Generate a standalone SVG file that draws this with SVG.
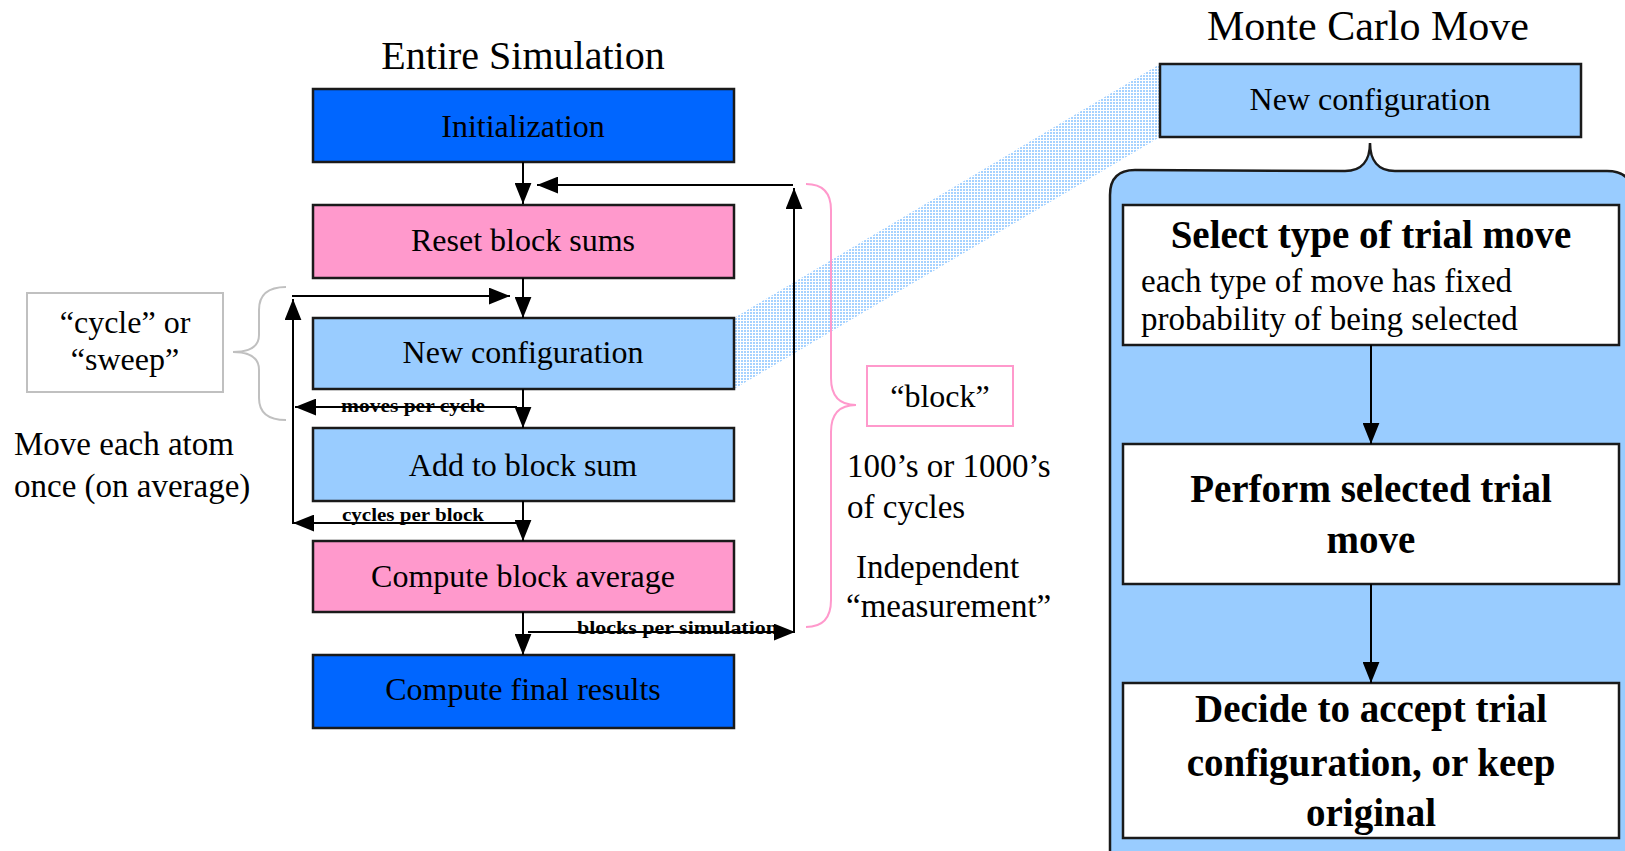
<svg xmlns="http://www.w3.org/2000/svg" width="1625" height="851" viewBox="0 0 1625 851">
<style>
  .t { font-family: "Liberation Serif", "Times New Roman", serif; fill: #000; }
  .title { font-size: 40px; text-anchor: middle; }
  .lbl { font-size: 32px; text-anchor: middle; }
  .big { font-size: 39px; font-weight: bold; text-anchor: middle; }
  .txt { font-size: 33px; }
  .sm { font-size: 19px; font-weight: bold; }
  .box { stroke: #1a1a1a; stroke-width: 2.5; }
  .dk { fill: #0066FF; }
  .pk { fill: #FF99CC; }
  .lb { fill: #99CCFF; }
  .wh { fill: #FFFFFF; }
  .ln { stroke: #000; stroke-width: 2; fill: none; }
</style>
<defs>
  <marker id="ah" viewBox="0 0 20 16" refX="20" refY="8" markerWidth="21" markerHeight="17" markerUnits="userSpaceOnUse" orient="auto">
    <path d="M0,0 L20,8 L0,16 Z" fill="#000"/>
  </marker>
  <pattern id="hatch" width="3" height="3" patternUnits="userSpaceOnUse">
    <rect width="3" height="3" fill="#FFFFFF"/>
    <rect width="2" height="2" fill="#A6D2FF"/>
  </pattern>
</defs>
<rect width="1625" height="851" fill="#FFFFFF"/>

<!-- zoom band -->
<polygon id="zoom-band" points="734,318 1160,64 1160,137 734,389" fill="url(#hatch)"/>

<!-- titles -->
<text class="t title" x="523" y="69">Entire Simulation</text>
<text class="t title" x="1368" y="40" style="font-size:42px">Monte Carlo Move</text>

<!-- left flow nodes -->
<g id="init"><rect class="box dk" x="313" y="89" width="421" height="73"/><text class="t lbl" x="523" y="137">Initialization</text></g>
<g id="reset"><rect class="box pk" x="313" y="205" width="421" height="73"/><text class="t lbl" x="523" y="251">Reset block sums</text></g>
<g id="newconf"><rect class="box lb" x="313" y="318" width="421" height="71"/><text class="t lbl" x="523" y="363">New configuration</text></g>
<g id="addsum"><rect class="box lb" x="313" y="428" width="421" height="73"/><text class="t lbl" x="523" y="476">Add to block sum</text></g>
<g id="blockavg"><rect class="box pk" x="313" y="541" width="421" height="71"/><text class="t lbl" x="523" y="587">Compute block average</text></g>
<g id="final"><rect class="box dk" x="313" y="655" width="421" height="73"/><text class="t lbl" x="523" y="700">Compute final results</text></g>

<!-- annotations left -->
<g id="cycle-box">
  <rect x="27" y="293" width="196" height="99" fill="#FFFFFF" stroke="#C0C0C0" stroke-width="2"/>
  <text class="t lbl" x="125" y="333">“cycle” or</text>
  <text class="t lbl" x="125" y="370">“sweep”</text>
</g>
<path id="gray-brace" d="M286,287 Q259,287 259,310 L259,335 Q259,352 233,352 Q259,352 259,370 L259,398 Q259,420 286,420" fill="none" stroke="#C0C0C0" stroke-width="2"/>
<g id="move-note">
  <text class="t txt" x="14" y="455">Move each atom</text>
  <text class="t txt" x="14" y="497">once (on average)</text>
</g>

<!-- annotations right of flow -->
<path id="pink-brace" d="M806,184 Q831,184 831,210 L831,378 Q831,405 856,405 Q831,405 831,432 L831,600 Q831,627 806,627" fill="none" stroke="#FF99CC" stroke-width="2"/>
<g id="block-box">
  <rect x="867" y="366" width="146" height="60" fill="#FFFFFF" stroke="#FF99CC" stroke-width="2"/>
  <text class="t lbl" x="940" y="407">“block”</text>
</g>
<g id="block-note">
  <text class="t txt" x="847" y="477">100’s or 1000’s</text>
  <text class="t txt" x="847" y="518">of cycles</text>
  <text class="t txt" x="856" y="578">Independent</text>
  <text class="t txt" x="846" y="617">“measurement”</text>
</g>

<!-- connectors -->
<g id="connectors">
  <line class="ln" x1="523" y1="162" x2="523" y2="204" marker-end="url(#ah)"/>
  <line class="ln" x1="793" y1="185" x2="537" y2="185" marker-end="url(#ah)"/>
  <line class="ln" x1="794" y1="633" x2="794" y2="188" marker-end="url(#ah)"/>
  <line class="ln" x1="528" y1="632" x2="795" y2="632" marker-end="url(#ah)"/>
  <line class="ln" x1="523" y1="278" x2="523" y2="318" marker-end="url(#ah)"/>
  <line class="ln" x1="292" y1="296" x2="510" y2="296" marker-end="url(#ah)"/>
  <line class="ln" x1="293" y1="524" x2="293" y2="299" marker-end="url(#ah)"/>
  <line class="ln" x1="517" y1="407" x2="295" y2="407" marker-end="url(#ah)"/>
  <line class="ln" x1="523" y1="389" x2="523" y2="428" marker-end="url(#ah)"/>
  <line class="ln" x1="523" y1="523" x2="293" y2="523" marker-end="url(#ah)"/>
  <line class="ln" x1="523" y1="501" x2="523" y2="541" marker-end="url(#ah)"/>
  <line class="ln" x1="523" y1="612" x2="523" y2="655" marker-end="url(#ah)"/>
  <text class="t sm" x="341" y="412" textLength="144" lengthAdjust="spacingAndGlyphs">moves per cycle</text>
  <text class="t sm" x="342" y="521" textLength="142" lengthAdjust="spacingAndGlyphs">cycles per block</text>
  <text class="t sm" x="577" y="634" textLength="201" lengthAdjust="spacingAndGlyphs">blocks per simulation</text>
</g>

<!-- Monte Carlo move panel -->
<g id="mc-newconf"><rect class="box lb" x="1160" y="64" width="421" height="73"/><text class="t lbl" x="1370" y="110">New configuration</text></g>
<path id="mc-panel" d="M1110,870 L1110,195 Q1110,170 1135,170 L1345,171 C1362,171 1370,160 1370,143 C1370,160 1378,171 1395,171 L1607,171 Q1632,171 1632,195 L1632,870 Z" fill="#99CCFF" stroke="#1a1a1a" stroke-width="2.5"/>
<g id="select">
  <rect class="box wh" x="1123" y="205" width="496" height="140"/>
  <text class="t big" x="1371" y="248">Select type of trial move</text>
  <text class="t txt" x="1141" y="292">each type of move has fixed</text>
  <text class="t txt" x="1141" y="330">probability of being selected</text>
</g>
<g id="perform">
  <rect class="box wh" x="1123" y="444" width="496" height="140"/>
  <text class="t big" x="1371" y="502">Perform selected trial</text>
  <text class="t big" x="1371" y="553">move</text>
</g>
<g id="decide">
  <rect class="box wh" x="1123" y="683" width="496" height="155"/>
  <text class="t big" x="1371" y="722">Decide to accept trial</text>
  <text class="t big" x="1371" y="776">configuration, or keep</text>
  <text class="t big" x="1371" y="826">original</text>
</g>
<g id="mc-connectors">
  <line class="ln" x1="1371" y1="345" x2="1371" y2="444" marker-end="url(#ah)"/>
  <line class="ln" x1="1371" y1="584" x2="1371" y2="683" marker-end="url(#ah)"/>
</g>
</svg>
